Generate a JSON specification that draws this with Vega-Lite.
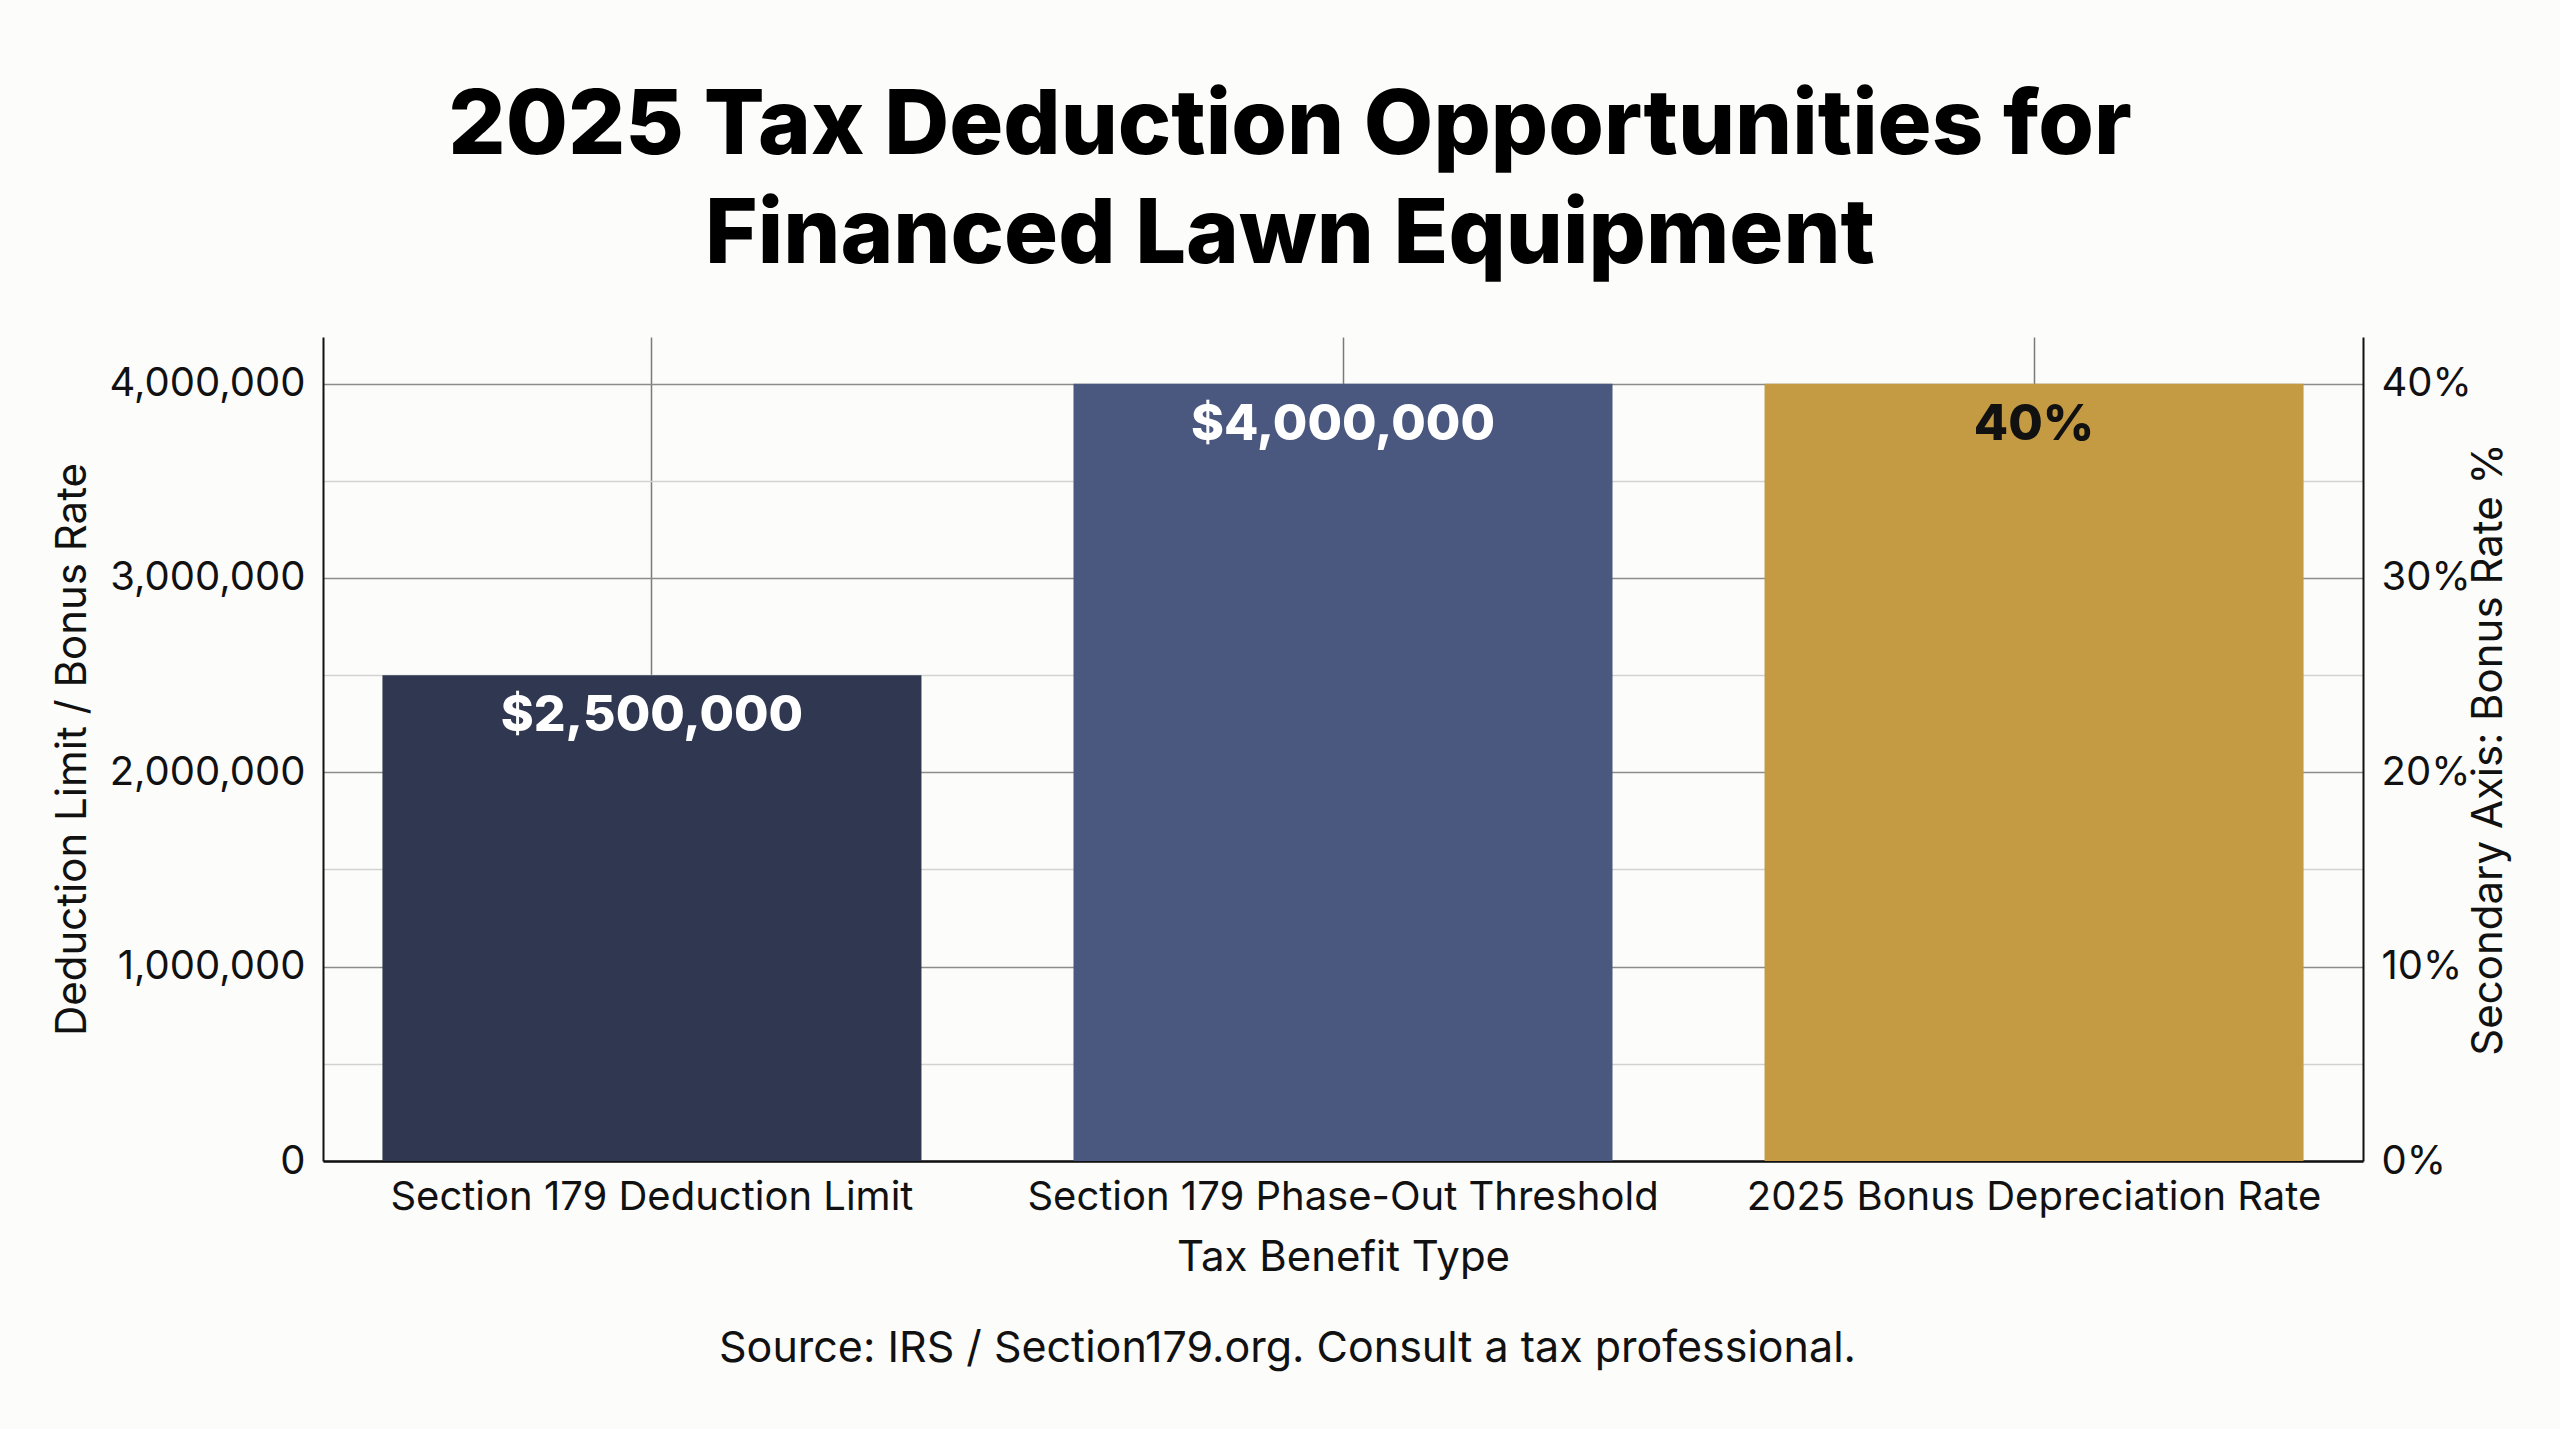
{
  "$schema": "https://vega.github.io/schema/vega-lite/v6.json",
  "description": "2025 tax deduction opportunities for financed lawn equipment.",
  "autosize": {"type": "none"},
  "padding": {"left": 323, "top": 337, "right": 197, "bottom": 268},
  "width": 2040,
  "height": 824,
  "background": "#fcfcfa",
  "data": {
    "values": [
      {"category": "Section 179 Deduction Limit", "value": 2500000, "label": "$2,500,000"},
      {"category": "Section 179 Phase-Out Threshold", "value": 4000000, "label": "$4,000,000"},
      {"category": "2025 Bonus Depreciation Rate", "value": 4000000, "label": "40%"}
    ]
  },
  "title": {
    "text": ["2025 Tax Deduction Opportunities for", "Financed Lawn Equipment"],
    "anchor": "middle",
    "frame": "group",
    "dx": -53,
    "offset": 55,
    "font": "Inter",
    "fontSize": 90,
    "fontWeight": 800,
    "lineHeight": 109,
    "color": "#000000"
  },
  "encoding": {
    "x": {
      "field": "category",
      "type": "nominal",
      "sort": null,
      "scale": {"paddingInner": 0.22, "paddingOuter": 0.086}
    },
    "y": {
      "field": "value",
      "type": "quantitative",
      "scale": {"domain": [0, 4240000], "nice": false}
    }
  },
  "layer": [
    {
      "mark": {"type": "bar"},
      "encoding": {
        "x": {
          "field": "category",
          "type": "nominal",
          "sort": null,
          "axis": {
            "title": "Tax Benefit Type",
            "labelAngle": 0,
            "labelPadding": 16,
            "labelFontSize": 40,
            "ticks": false,
            "grid": true,
            "bandPosition": 0.5,
            "gridColor": "#7a7a7a",
            "gridWidth": 1.5,
            "domainColor": "#111111",
            "domainWidth": 2.5,
            "titlePadding": 20
          }
        },
        "y": {
          "field": "value",
          "type": "quantitative",
          "axis": {
            "title": "Deduction Limit / Bonus Rate",
            "values": [0, 500000, 1000000, 1500000, 2000000, 2500000, 3000000, 3500000, 4000000],
            "labelExpr": "datum.value % 1000000 === 0 ? format(datum.value, ',') : ''",
            "ticks": false,
            "labelPadding": 18,
            "grid": true,
            "gridColor": {"condition": {"test": "datum.value % 1000000 === 0", "value": "#8c8c8c"}, "value": "#d2d2d2"},
            "gridWidth": 1.5,
            "domainColor": "#111111",
            "domainWidth": 2,
            "titlePadding": 29
          }
        },
        "color": {
          "field": "category",
          "type": "nominal",
          "legend": null,
          "scale": {
            "domain": ["Section 179 Deduction Limit", "Section 179 Phase-Out Threshold", "2025 Bonus Depreciation Rate"],
            "range": ["#2f3850", "#4a5880", "#c49a42"]
          }
        }
      }
    },
    {
      "mark": {"type": "text", "baseline": "middle", "dy": 41, "fontSize": 50, "fontWeight": 800, "font": "Inter"},
      "encoding": {
        "x": {
          "field": "category",
          "type": "nominal",
          "sort": null,
          "axis": {
            "orient": "bottom",
            "labels": false,
            "ticks": false,
            "domain": false,
            "grid": false,
            "title": "Source: IRS / Section179.org. Consult a tax professional.",
            "titleFontSize": 43,
            "titlePadding": 166,
            "titleX": 964
          }
        },
        "y": {
          "field": "value",
          "type": "quantitative",
          "axis": {
            "orient": "right",
            "title": "Secondary Axis: Bonus Rate %",
            "titleAngle": 270,
            "titleBaseline": "top",
            "values": [0, 1000000, 2000000, 3000000, 4000000],
            "labelExpr": "format(datum.value / 100000, 'd') + '%'",
            "ticks": false,
            "labelPadding": 18,
            "grid": false,
            "domainColor": "#111111",
            "domainWidth": 2,
            "titlePadding": -3
          }
        },
        "text": {"field": "label"},
        "color": {
          "condition": {"test": "datum.category === '2025 Bonus Depreciation Rate'", "value": "#111111"},
          "value": "#ffffff"
        }
      }
    }
  ],
  "resolve": {
    "scale": {"color": "independent"},
    "axis": {"x": "independent", "y": "independent"}
  },
  "config": {
    "view": {"stroke": null},
    "axis": {
      "labelFont": "Inter",
      "labelFontSize": 40,
      "labelLimit": 0,
      "labelColor": "#111111",
      "titleFont": "Inter",
      "titleFontSize": 42,
      "titleFontWeight": "normal",
      "titleColor": "#111111"
    }
  }
}
